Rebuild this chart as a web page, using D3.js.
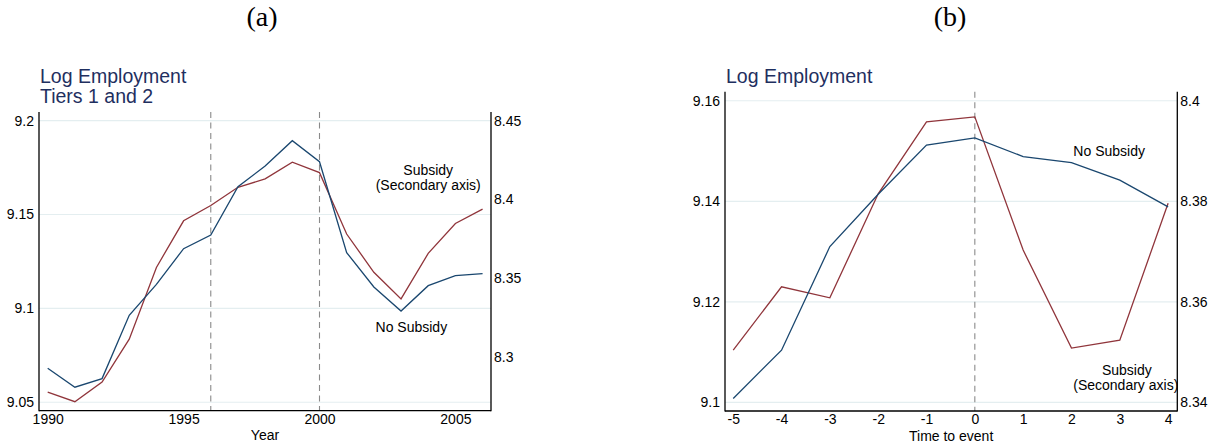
<!DOCTYPE html>
<html>
<head>
<meta charset="utf-8">
<script src="https://cdn.jsdelivr.net/npm/d3@7"></script>
<style>
  html, body { margin: 0; padding: 0; background: #fff; }
  svg { display: block; }
</style>
</head>
<body>
<svg id="fig" width="1208" height="445"></svg>
<script>
// ---- Panel (a): log employment by year, tiers 1 and 2 ----
const years = [1990, 1991, 1992, 1993, 1994, 1995, 1996, 1997, 1998, 1999, 2000, 2001, 2002, 2003, 2004, 2005, 2006];
const noSubsidyA = [9.0681, 9.0580, 9.0626, 9.0963, 9.1128, 9.1318, 9.1391, 9.1648, 9.1758, 9.1893, 9.1781, 9.1297, 9.1114, 9.0986, 9.1121, 9.1174, 9.1185];
const subsidyA = [8.2776, 8.2715, 8.2840, 8.3112, 8.3568, 8.3864, 8.3961, 8.4077, 8.4130, 8.4236, 8.4170, 8.3780, 8.3537, 8.3368, 8.3657, 8.3847, 8.3938];
const yearTicks = [1990, 1995, 2000, 2005];
const leftTicksA = [9.05, 9.1, 9.15, 9.2];
const rightTicksA = [8.3, 8.35, 8.4, 8.45];
const eventLinesA = [1996, 2000];

// ---- Panel (b): log employment by time to event ----
const eventTime = [-5, -4, -3, -2, -1, 0, 1, 2, 3, 4];
const noSubsidyB = [9.1008, 9.1104, 9.1310, 9.1414, 9.1512, 9.1526, 9.1489, 9.1477, 9.1442, 9.1389];
const subsidyB = [8.3504, 8.3630, 8.3608, 8.3815, 8.3958, 8.3968, 8.3703, 8.3508, 8.3524, 8.3796];
const eventTicks = [-5, -4, -3, -2, -1, 0, 1, 2, 3, 4];
const leftTicksB = [9.1, 9.12, 9.14, 9.16];
const rightTicksB = [8.34, 8.36, 8.38, 8.4];
const eventLinesB = [0];

const NAVY = "#1a476f";
const MAROON = "#90353b";
const TITLE = "#1f2f5f";
const GRID = "#e4eef0";
const SANS = "'Liberation Sans', Arial, Helvetica, sans-serif";
const SERIF = "'Liberation Serif', 'Times New Roman', serif";

const svg = d3.select("#fig");
const plain = d => String(d);   // keep ASCII hyphen for negatives

function drawPanel(cfg) {
  const g = svg.append("g");
  const x = d3.scaleLinear().domain(cfg.xDomain).range([cfg.left, cfg.right]);
  const yL = d3.scaleLinear().domain(cfg.yLeftDomain).range([cfg.bottom, cfg.top]);
  const yR = d3.scaleLinear().domain(cfg.yRightDomain).range([cfg.bottom, cfg.top]);

  // horizontal grid on the primary axis
  g.selectAll("line.grid").data(cfg.leftTicks).join("line")
    .attr("class", "grid")
    .attr("x1", cfg.left).attr("x2", cfg.right)
    .attr("y1", d => yL(d)).attr("y2", d => yL(d))
    .attr("stroke", GRID).attr("stroke-width", 1.2);

  // event reference lines
  g.selectAll("line.event").data(cfg.eventLines).join("line")
    .attr("class", "event")
    .attr("x1", d => x(d)).attr("x2", d => x(d))
    .attr("y1", cfg.top).attr("y2", cfg.bottom)
    .attr("stroke", "#8a8a8a").attr("stroke-width", 1.1)
    .attr("stroke-dasharray", "6,4.5");

  // series
  const lineL = d3.line().x((d, i) => x(cfg.xs[i])).y(d => yL(d));
  const lineR = d3.line().x((d, i) => x(cfg.xs[i])).y(d => yR(d));
  g.append("path").datum(cfg.subsidy).attr("d", lineR)
    .attr("fill", "none").attr("stroke", MAROON).attr("stroke-width", 1.3);
  g.append("path").datum(cfg.noSubsidy).attr("d", lineL)
    .attr("fill", "none").attr("stroke", NAVY).attr("stroke-width", 1.3);

  // axes
  const axL = g.append("g").attr("transform", `translate(${cfg.left},0)`)
    .call(d3.axisLeft(yL).tickValues(cfg.leftTicks).tickSize(0).tickPadding(5).tickFormat(plain));
  const axR = g.append("g").attr("transform", `translate(${cfg.right},0)`)
    .call(d3.axisRight(yR).tickValues(cfg.rightTicks).tickSize(0).tickPadding(3).tickFormat(plain));
  const axB = g.append("g").attr("transform", `translate(0,${cfg.bottom})`)
    .call(d3.axisBottom(x).tickValues(cfg.xTicks).tickSize(0).tickPadding(3).tickFormat(plain));
  [axL, axR, axB].forEach(a => {
    a.attr("font-family", SANS).attr("font-size", 14);
    a.select(".domain").remove();
    a.selectAll("text").attr("fill", "#000");
  });
  // axis lines
  g.append("line").attr("x1", cfg.left).attr("x2", cfg.left).attr("y1", cfg.top).attr("y2", cfg.bottom + 0.5)
    .attr("stroke", "#000").attr("stroke-width", 1.3);
  g.append("line").attr("x1", cfg.right).attr("x2", cfg.right).attr("y1", cfg.top).attr("y2", cfg.bottom + 0.5)
    .attr("stroke", "#000").attr("stroke-width", 1.3);
  g.append("line").attr("x1", cfg.left).attr("x2", cfg.right).attr("y1", cfg.bottom).attr("y2", cfg.bottom)
    .attr("stroke", "#000").attr("stroke-width", 1.3);

  // x axis title
  g.append("text").attr("x", (cfg.left + cfg.right) / 2).attr("y", cfg.bottom + 29.5)
    .attr("text-anchor", "middle").attr("font-family", SANS).attr("font-size", 14).attr("fill", "#000")
    .text(cfg.xTitle);

  // plot title
  cfg.title.forEach((t, i) => {
    g.append("text").attr("x", cfg.left + 1).attr("y", cfg.titleY + i * 20)
      .attr("font-family", SANS).attr("font-size", 19.5).attr("fill", TITLE).text(t);
  });

  // series annotations
  cfg.notes.forEach(n => {
    g.append("text").attr("x", x(n.x)).attr("y", yL(n.y))
      .attr("text-anchor", "middle").attr("dominant-baseline", "central")
      .attr("font-family", SANS).attr("font-size", 14).attr("fill", "#000").text(n.text);
  });

  // sub-figure caption
  svg.append("text").attr("x", cfg.captionX).attr("y", 26)
    .attr("text-anchor", "middle").attr("font-size", 28)
    .attr("font-family", SERIF)
    .attr("fill", "#000").text(cfg.caption);
}

drawPanel({
  caption: "(a)", captionX: 262,
  left: 39, right: 491, top: 112, bottom: 410.7,
  xDomain: [1989.68, 2006.31],
  yLeftDomain: [9.0455, 9.2046],
  yRightDomain: [8.2658, 8.4555],
  xs: years, noSubsidy: noSubsidyA, subsidy: subsidyA,
  xTicks: yearTicks, leftTicks: leftTicksA, rightTicks: rightTicksA,
  eventLines: eventLinesA,
  xTitle: "Year",
  title: ["Log Employment", "Tiers 1 and 2"], titleY: 83,
  notes: [
    { text: "Subsidy", x: 2004.0, y: 9.1737 },
    { text: "(Secondary axis)", x: 2004.0, y: 9.1657 },
    { text: "No Subsidy", x: 2003.38, y: 9.0900 }
  ]
});

drawPanel({
  caption: "(b)", captionX: 950,
  left: 725, right: 1177.3, top: 91.7, bottom: 411,
  xDomain: [-5.17, 4.19],
  yLeftDomain: [9.0983, 9.1618],
  yRightDomain: [8.3383, 8.4018],
  xs: eventTime, noSubsidy: noSubsidyB, subsidy: subsidyB,
  xTicks: eventTicks, leftTicks: leftTicksB, rightTicks: rightTicksB,
  eventLines: eventLinesB,
  xTitle: "Time to event",
  title: ["Log Employment"], titleY: 83,
  notes: [
    { text: "No Subsidy", x: 2.78, y: 9.1500 },
    { text: "Subsidy", x: 3.145, y: 9.1064 },
    { text: "(Secondary axis)", x: 3.124, y: 9.1034 }
  ]
});
</script>
</body>
</html>
